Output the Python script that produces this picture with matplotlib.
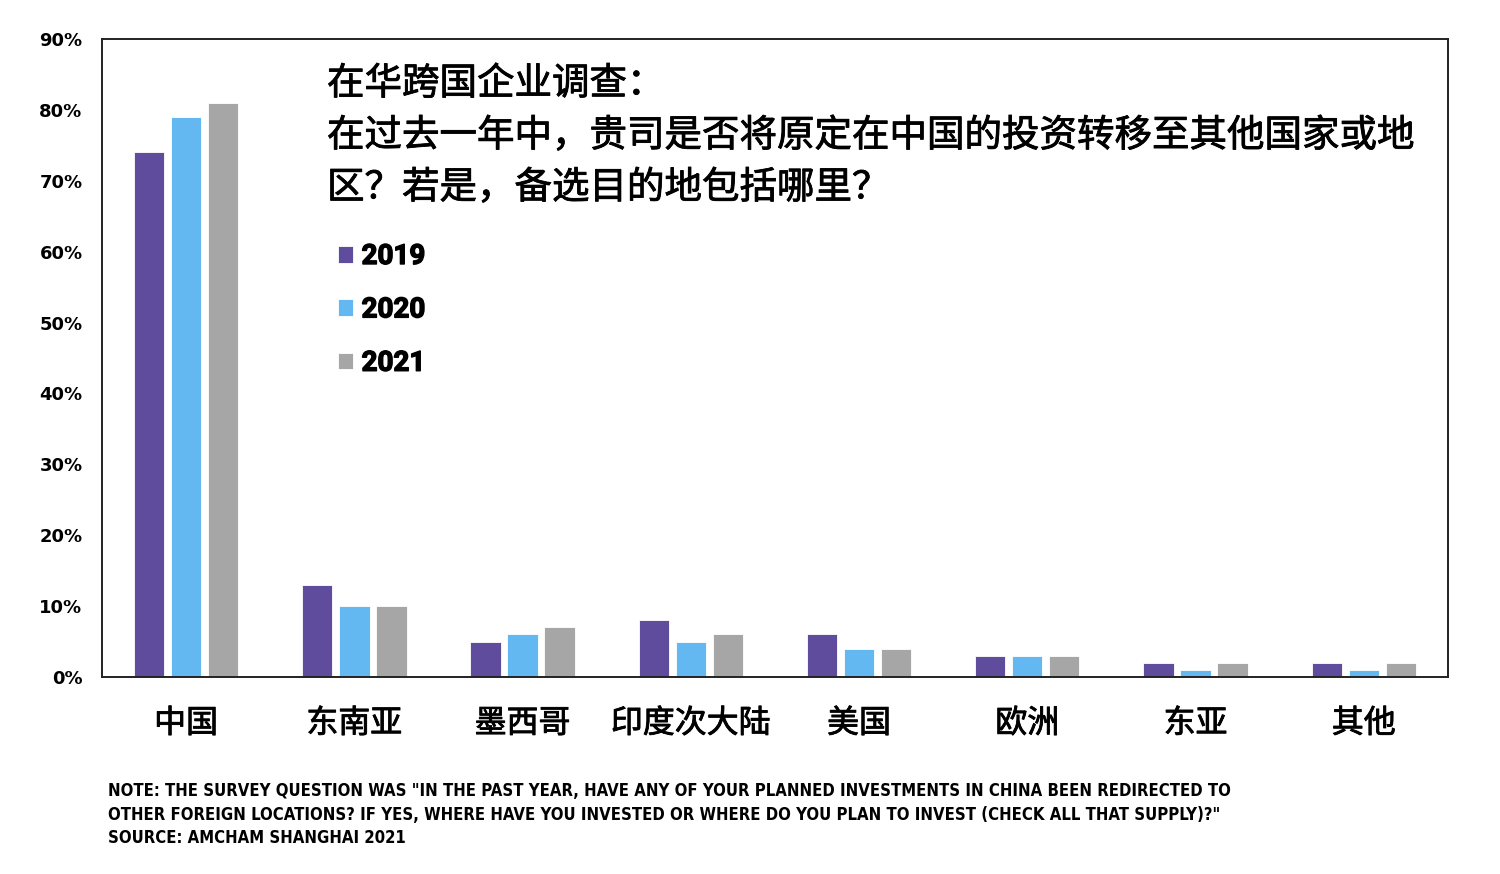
import matplotlib
matplotlib.use("Agg")
import matplotlib.pyplot as plt
import matplotlib.patheffects as pe
import numpy as np

CJK = ["Noto Sans CJK SC", "DejaVu Sans"]
plt.rcParams["font.family"] = CJK

regions = ["中国", "东南亚", "墨西哥", "印度次大陆", "美国", "欧洲", "东亚", "其他"]
years = ["2019", "2020", "2021"]
share_2019 = [74, 13, 5, 8, 6, 3, 2, 2]
share_2020 = [79, 10, 6, 5, 4, 3, 1, 1]
share_2021 = [81, 10, 7, 6, 4, 3, 2, 2]
colors = ["#604c9c", "#63b8f1", "#a6a6a6"]

title_lines = ["在华跨国企业调查：",
               "在过去一年中，贵司是否将原定在中国的投资转移至其他国家或地",
               "区？若是，备选目的地包括哪里？"]
note = ("NOTE: THE SURVEY QUESTION WAS \"IN THE PAST YEAR, HAVE ANY OF YOUR PLANNED INVESTMENTS IN CHINA BEEN REDIRECTED TO\n"
        "OTHER FOREIGN LOCATIONS? IF YES, WHERE HAVE YOU INVESTED OR WHERE DO YOU PLAN TO INVEST (CHECK ALL THAT SUPPLY)?\"\n"
        "SOURCE: AMCHAM SHANGHAI 2021")

# thicken the regular CJK face a bit, closer to the medium weight of the original
heavy = [pe.withStroke(linewidth=0.6, foreground="black")]

fig = plt.figure(figsize=(15, 8.74), dpi=100)
ax = fig.add_axes([0.068, 0.2254, 0.8973, 0.73])

x = np.arange(len(regions))
w = 0.18
off = 0.22
bars = []
for i, (vals, c, lab) in enumerate(zip([share_2019, share_2020, share_2021], colors, years)):
    b = ax.bar(x + (i - 1) * off, vals, width=w, color=c, label=lab,
               edgecolor="white", linewidth=0.6)
    bars.append(b)

ax.set_xlim(-0.5, len(regions) - 0.5)
ax.set_ylim(0, 90)
ax.set_yticks(range(0, 91, 10))
ax.set_yticklabels([f"{v}%" for v in range(0, 91, 10)],
                   fontsize=13, fontweight="bold", family="DejaVu Sans")
ax.set_xticks(x)
ax.set_xticklabels(regions, fontsize=23)
for t in ax.get_xticklabels():
    t.set_path_effects(heavy)
ax.tick_params(axis="both", length=0)
ax.tick_params(axis="x", pad=22)
ax.tick_params(axis="y", pad=14)
for s in ax.spines.values():
    s.set_linewidth(1.4)
    s.set_color("#222222")

for k, line in enumerate(title_lines):
    fig.text(0.218, 1 - (84 + 52 * k) / 874, line, fontsize=27,
             va="center", ha="left", path_effects=heavy)

leg = fig.legend(handles=bars, labels=years, loc="upper left",
                 bbox_to_anchor=(0.2253, 1 - 243 / 874), frameon=False,
                 prop={"family": "Roboto", "weight": "bold", "size": 20},
                 handlelength=0.55, handleheight=0.55, handletextpad=0.3,
                 labelspacing=0.95, borderpad=0, borderaxespad=0)
for t in leg.get_texts():
    t.set_path_effects([pe.withStroke(linewidth=1.0, foreground="black")])

fig.text(0.072, 1 - 782 / 874, note, fontsize=12, fontweight="bold",
         family=["Liberation Sans Narrow", "DejaVu Sans"], fontstretch="condensed",
         va="top", ha="left", linespacing=1.4)

fig.savefig("out.png", dpi=100, facecolor="white")
